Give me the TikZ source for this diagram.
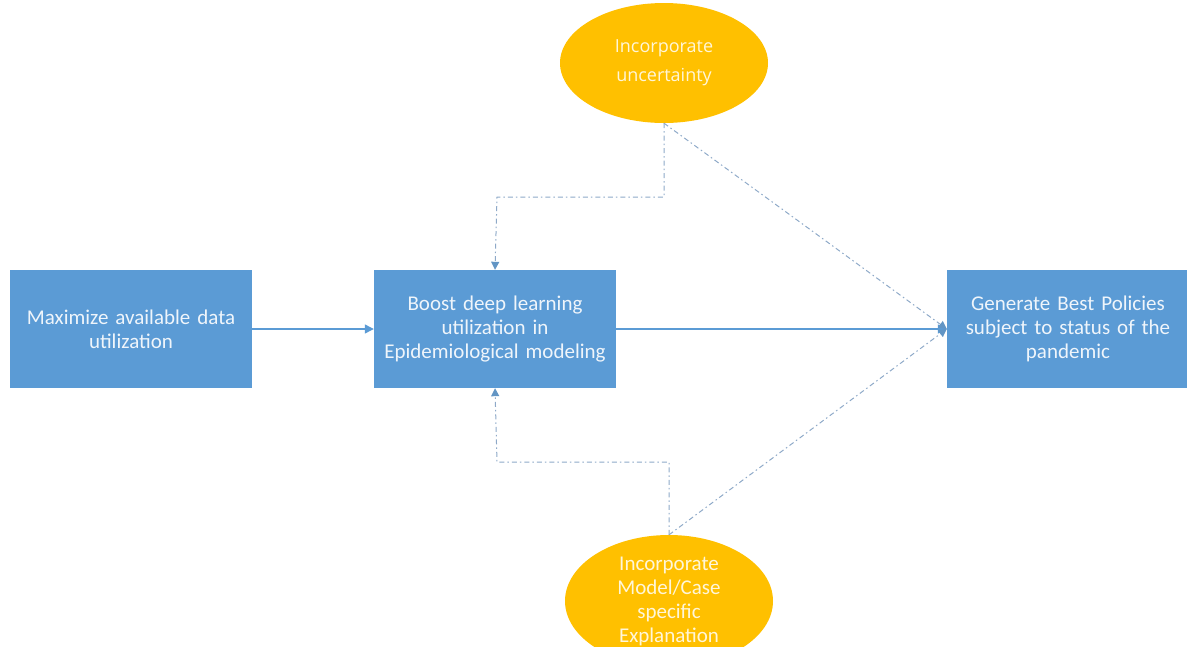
\documentclass[tikz,border=0pt]{standalone}
\usepackage{fontspec}
\setmainfont{Carlito}[WordSpace=0.45]
\newfontfamily\ovalfont{Open Sans}
\usepackage{tikz}
\usetikzlibrary{calc, shapes, arrows.meta, positioning}
\definecolor{boxblue}{HTML}{5B9BD5}
\definecolor{goldfill}{HTML}{FFC000}
\definecolor{dashgray}{HTML}{8EA9C8}
\tikzset{
    boxnode/.style = {draw=none, fill=boxblue, rectangle, minimum width=242pt, minimum height=118pt,
      inner sep=0pt, text width=235pt, align=center, text=white!90!boxblue,
      font=\fontsize{21}{24}\selectfont},
    ovalnode/.style = {draw=none, fill=goldfill, ellipse, inner sep=0pt, text width=115pt, align=center,
      text=white!85!goldfill},
    connect/.style = {boxblue, line width=1.2pt, -{Triangle[length=9pt,width=9pt]}},
    dashconnect/.style = {dashgray, line width=1pt, dash pattern=on 5pt off 3pt on 1.5pt off 3pt,
      -{Triangle[length=8pt,width=8pt,color=boxblue!80!gray]}}
}

\begin{document}
\begin{tikzpicture}[x=1pt, y=-1pt]
\useasboundingbox (0,0) rectangle (1187,646);
\node[boxnode, name=maxdata] at (131,329) {Maximize available data\\utilization};
\node[boxnode, name=boost] at (495,329) {Boost deep learning\\utilization in\\Epidemiological modeling};
\node[boxnode, name=policy] at (1068,329) {Generate Best Policies\\subject to status of the\\pandemic};
\node[ovalnode, name=uncert, minimum width=208pt, minimum height=120pt,
  font=\ovalfont\fontsize{18}{29}\selectfont] at (664,63) {Incorporate\\uncertainty};
\node[ovalnode, name=explain, minimum width=208pt, minimum height=132pt,
  font=\fontsize{21}{24}\selectfont] at (669,601) {Incorporate\\Model/Case\\specific\\Explanation};
\coordinate (topbend) at (497,197);
\coordinate (botbend) at (497,462);

\draw[connect] (maxdata) -- (boost);
\draw[connect] (boost) -- (policy);
\draw[dashconnect] (uncert.south) |- (topbend) -- (boost.north);
\draw[dashconnect] (explain.north) |- (botbend) -- (boost.south);
\draw[dashconnect] (uncert.south) -- (policy.west);
\draw[dashconnect] (explain.north) -- (policy.west);
\end{tikzpicture}
\end{document}
